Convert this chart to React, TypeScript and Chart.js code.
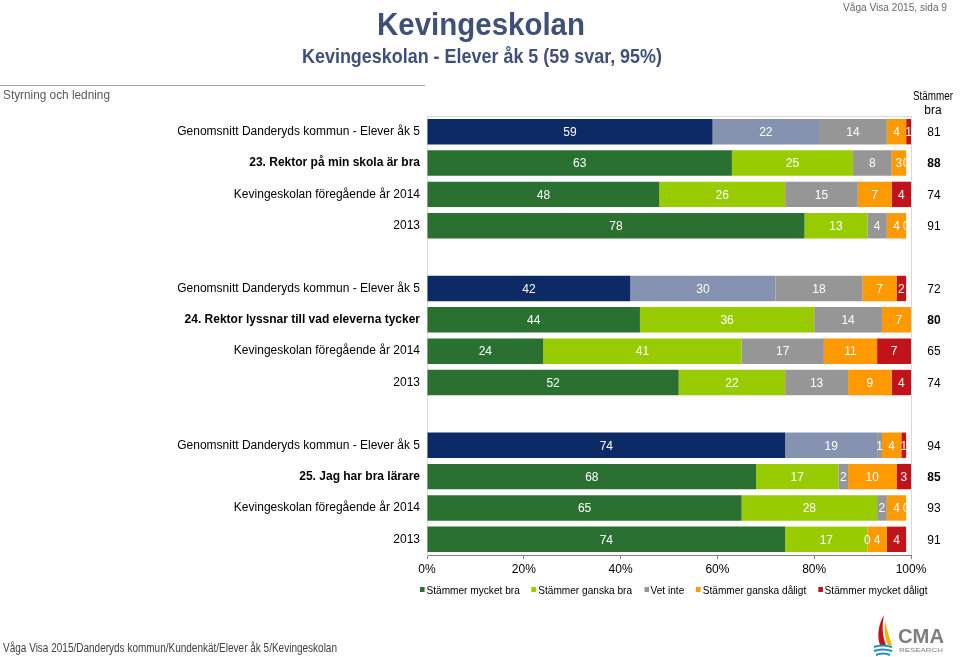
import React, { useEffect, useRef } from "react";
import { Chart, registerables } from "chart.js";
Chart.register(...registerables);

const categories = [
  "Genomsnitt Danderyds kommun - Elever åk 5",
  "23. Rektor på min skola är bra",
  "Kevingeskolan föregående år 2014",
  "2013",
  "",
  "Genomsnitt Danderyds kommun - Elever åk 5",
  "24. Rektor lyssnar till vad eleverna tycker",
  "Kevingeskolan föregående år 2014",
  "2013",
  "",
  "Genomsnitt Danderyds kommun - Elever åk 5",
  "25. Jag har bra lärare",
  "Kevingeskolan föregående år 2014",
  "2013",
];
const seriesNames = [
  "Stämmer mycket bra",
  "Stämmer ganska bra",
  "Vet inte",
  "Stämmer ganska dåligt",
  "Stämmer mycket dåligt",
];
const mycketBra = [59, 63, 48, 78, null, 42, 44, 24, 52, null, 74, 68, 65, 74];
const ganskaBra = [22, 25, 26, 13, null, 30, 36, 41, 22, null, 19, 17, 28, 17];
const vetInte = [14, 8, 15, 4, null, 18, 14, 17, 13, null, 1, 2, 2, 0];
const ganskaDaligt = [4, 3, 7, 4, null, 7, 7, 11, 9, null, 4, 10, 4, 4];
const mycketDaligt = [1, 0, 4, 0, null, 2, 0, 7, 4, null, 1, 3, 0, 4];
const stammerBra = [81, 88, 74, 91, null, 72, 80, 65, 74, null, 94, 85, 93, 91];
const xTickValues = [0, 20, 40, 60, 80, 100];

const seriesValues = [mycketBra, ganskaBra, vetInte, ganskaDaligt, mycketDaligt];
const seriesColors = ["#2a7131", "#99cc00", "#969696", "#ff9900", "#c0141a"];
const averageColors = ["#0c2a66", "#8592b0", "#969696", "#ff9900", "#c0141a"];

const isAverage = (i: number) => categories[i].startsWith("Genomsnitt");
const isQuestion = (i: number) => /^\d+\./.test(categories[i]);

const FONT = "'Liberation Sans', Arial, sans-serif";

const overlayPlugin = {
  id: "overlay",
  beforeDatasetsDraw(chart: any) {
    const { ctx, chartArea } = chart;
    ctx.save();
    ctx.strokeStyle = "#d9d9d9";
    ctx.lineWidth = 1;
    ctx.beginPath();
    ctx.moveTo(chartArea.left, chartArea.top + 0.5);
    ctx.lineTo(chartArea.right + 0.5, chartArea.top + 0.5);
    ctx.lineTo(chartArea.right + 0.5, chartArea.bottom);
    ctx.stroke();
    ctx.restore();
  },
  afterDatasetsDraw(chart: any) {
    const { ctx, chartArea } = chart;
    ctx.save();
    ctx.beginPath();
    ctx.rect(chartArea.left, chartArea.top, chartArea.right - chartArea.left, chartArea.bottom - chartArea.top);
    ctx.clip();
    ctx.font = `12px ${FONT}`;
    ctx.fillStyle = "#ffffff";
    ctx.textAlign = "center";
    ctx.textBaseline = "middle";
    chart.data.datasets.forEach((ds: any, di: number) => {
      const meta = chart.getDatasetMeta(di);
      meta.data.forEach((el: any, i: number) => {
        const v = ds.data[i];
        if (v === null || v === undefined) return;
        const x = (el.x + el.base) / 2;
        ctx.fillText(String(v), x, el.y + 1);
      });
    });
    ctx.restore();

    ctx.save();
    ctx.fillStyle = "#000000";
    ctx.textAlign = "center";
    ctx.textBaseline = "middle";
    const yScale = chart.scales.y;
    stammerBra.forEach((v, i) => {
      if (v === null) return;
      ctx.font = `${isQuestion(i) ? "bold " : ""}12px ${FONT}`;
      ctx.fillText(String(v), 934, yScale.getPixelForValue(i) + 1);
    });
    ctx.restore();
  },
};

function ChartCanvas() {
  const ref = useRef<HTMLCanvasElement>(null);
  useEffect(() => {
    if (!ref.current) return;
    const chart = new Chart(ref.current, {
      type: "bar",
      data: {
        labels: categories,
        datasets: seriesValues.map((vals, k) => ({
          label: seriesNames[k],
          data: vals,
          backgroundColor: (c: any) => (isAverage(c.dataIndex) ? averageColors[k] : seriesColors[k]),
          borderWidth: 0,
          barPercentage: 0.81,
          categoryPercentage: 1,
        })),
      },
      options: {
        indexAxis: "y",
        responsive: false,
        animation: false,
        devicePixelRatio: 1,
        layout: { padding: { left: 0, right: 49, top: 116, bottom: 0 } },
        plugins: { legend: { display: false }, tooltip: { enabled: false } },
        scales: {
          x: {
            stacked: true,
            min: 0,
            max: 100,
            afterFit: (s: any) => {
              s.height = 102;
            },
            afterBuildTicks: (s: any) => {
              s.ticks = xTickValues.map((v) => ({ value: v }));
            },
            grid: { drawOnChartArea: false, drawTicks: true, tickLength: 4, color: "#808080" },
            border: { display: true, color: "#808080" },
            ticks: {
              color: "#000",
              font: { size: 12, family: FONT },
              padding: 3,
              callback: (v: any) => `${v}%`,
            },
          },
          y: {
            stacked: true,
            afterFit: (s: any) => {
              s.width = 427;
            },
            grid: { display: false, drawTicks: false },
            border: { display: true, color: "#d9d9d9" },
            ticks: {
              color: "#000",
              padding: 7,
              autoSkip: false,
              font: (c: any) => ({ size: 12, family: FONT, weight: isQuestion(c.index) ? "bold" : "normal" }),
            },
          },
        },
      },
      plugins: [overlayPlugin],
    } as any);
    return () => chart.destroy();
  }, []);
  return <canvas ref={ref} width={960} height={657} style={{ position: "absolute", left: 0, top: 0 }} />;
}

function TextLayer() {
  return (
    <svg width={960} height={657} style={{ position: "absolute", left: 0, top: 0, pointerEvents: "none" }} fontFamily={FONT}>
      <text x={843} y={11} fontSize={10} fill="#666" textLength={104} lengthAdjust="spacingAndGlyphs">
        Våga Visa 2015, sida 9
      </text>
      <text x={481} y={35} fontSize={31} fontWeight="bold" fill="#3f5079" textAnchor="middle" textLength={208} lengthAdjust="spacingAndGlyphs">
        Kevingeskolan
      </text>
      <text x={482} y={63} fontSize={21} fontWeight="bold" fill="#3f5079" textAnchor="middle" textLength={360} lengthAdjust="spacingAndGlyphs">
        Kevingeskolan - Elever åk 5 (59 svar, 95%)
      </text>
      <line x1={0} y1={85.5} x2={425} y2={85.5} stroke="#a6a6a6" strokeWidth={1} />
      <text x={3} y={99} fontSize={12} fill="#595959" textLength={107} lengthAdjust="spacingAndGlyphs">
        Styrning och ledning
      </text>
      <text x={933} y={100} fontSize={12} fill="#000" textAnchor="middle" textLength={40} lengthAdjust="spacingAndGlyphs">
        Stämmer
      </text>
      <text x={933} y={114} fontSize={12} fill="#000" textAnchor="middle">
        bra
      </text>
      <text x={3} y={652} fontSize={12} fill="#404040" textLength={334} lengthAdjust="spacingAndGlyphs">
        Våga Visa 2015/Danderyds kommun/Kundenkät/Elever åk 5/Kevingeskolan
      </text>
    </svg>
  );
}

function Logo() {
  return (
    <svg width={80} height={44} viewBox="0 0 80 44" style={{ position: "absolute", left: 868, top: 613 }}>
      <path d="M16 2 C10 12 9 24 12 32 L18 32 C14 22 14 12 16 2 Z" fill="#c0141a" />
      <path d="M17 8 C16 18 17 26 20 32 L24 32 C21 24 19 16 17 8 Z" fill="#f5b400" />
      <path d="M6 34 Q14 31 24 34" stroke="#1e88c8" strokeWidth={2} fill="none" />
      <path d="M6 38 Q14 35 24 38" stroke="#1e88c8" strokeWidth={2} fill="none" />
      <path d="M8 42 Q15 39 22 42" stroke="#1e88c8" strokeWidth={2} fill="none" />
      <text x={30} y={30} fontFamily={FONT} fontSize={20} fill="#7f7f7f" fontWeight="bold" textLength={46} lengthAdjust="spacingAndGlyphs">CMA</text>
      <text x={31} y={39} fontFamily={FONT} fontSize={6} fill="#7f7f7f" textLength={44} lengthAdjust="spacingAndGlyphs">RESEARCH</text>
    </svg>
  );
}

export default function App() {
  const legendItems = seriesNames.map((n, k) => (
    <span key={n} style={{ display: "inline-flex", alignItems: "center", marginRight: 13 }}>
      <span style={{ width: 5, height: 5, background: seriesColors[k], display: "inline-block", marginRight: 2 }} />
      {n}
    </span>
  ));
  return (
    <div style={{ position: "absolute", left: 0, top: 0, width: 960, height: 657, background: "#fff", overflow: "hidden" }}>
      <ChartCanvas />
      <TextLayer />
      <div
        style={{
          position: "absolute",
          left: 420,
          top: 582,
          fontFamily: FONT,
          fontSize: 11,
          color: "#000",
          whiteSpace: "nowrap",
          transform: "scaleX(0.92)",
          transformOrigin: "0 0",
        }}
      >
        {legendItems}
      </div>
      <Logo />
    </div>
  );
}
